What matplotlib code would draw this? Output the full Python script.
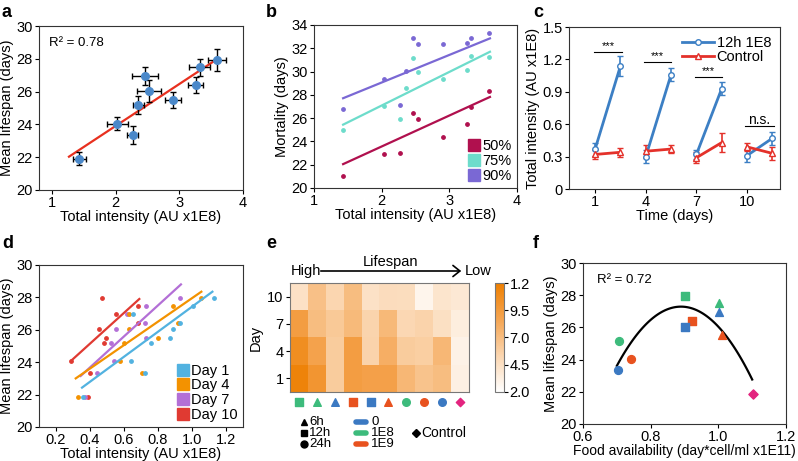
import numpy as np
import matplotlib
matplotlib.use('Agg')
import matplotlib.pyplot as plt
from matplotlib.colors import LinearSegmentedColormap
from matplotlib.lines import Line2D

plt.rcParams['font.family'] = ['Liberation Sans', 'DejaVu Sans']
plt.rcParams['font.size'] = 9
plt.rcParams['axes.edgecolor'] = '#333333'
plt.rcParams['axes.linewidth'] = 0.8
plt.rcParams['xtick.major.size'] = 3
plt.rcParams['ytick.major.size'] = 3
plt.rcParams['xtick.major.width'] = 0.8
plt.rcParams['ytick.major.width'] = 0.8

W, H = 798, 461

# colours
green = '#3dbb7c'
blue = '#3b79c2'
orange = '#e8521f'
magenta = '#e3247f'

# ---- panel a: mean lifespan vs total intensity
a_x = [1.43, 2.03, 2.27, 2.36, 2.46, 2.53, 2.90, 3.26, 3.32, 3.59]
a_y = [21.9, 24.04, 23.37, 25.16, 26.94, 26.04, 25.5, 26.4, 27.47, 27.92]
a_xerr = [0.10, 0.16, 0.09, 0.09, 0.20, 0.19, 0.12, 0.12, 0.17, 0.14]
a_yerr = [0.40, 0.40, 0.55, 0.55, 0.55, 0.65, 0.50, 0.50, 0.50, 0.65]
a_fit_x = [1.27, 3.60]

# ---- panel b: mortality percentiles
b_x50 = [1.43, 2.03, 2.27, 2.46, 2.53, 2.90, 3.26, 3.32, 3.59]
b_y50 = [21.04, 22.94, 22.97, 26.47, 25.95, 24.37, 25.52, 26.96, 28.37]
b_x = [1.43, 2.03, 2.27, 2.36, 2.46, 2.53, 2.90, 3.26, 3.32, 3.59]
b_y75 = [25.0, 27.0, 25.95, 28.57, 31.15, 30.0, 29.37, 30.15, 31.3, 31.24]
b_y90 = [26.82, 29.4, 27.16, 30.03, 32.85, 32.33, 32.39, 32.45, 32.9, 33.34]
b_fit_x = [1.43, 3.60]
b_fit50 = [22.05, 27.82]
b_fit75 = [25.44, 31.70]
b_fit90 = [27.71, 32.85]

# ---- panel c: intensity time course
c_x = [1, 2.5, 4, 5.5, 7, 8.5, 10, 11.5]
c_treat = [0.37, 1.14, 0.30, 1.06, 0.32, 0.93, 0.31, 0.47]
c_treat_err = [0.06, 0.09, 0.06, 0.06, 0.04, 0.06, 0.06, 0.06]
c_ctrl = [0.32, 0.34, 0.35, 0.37, 0.29, 0.43, 0.39, 0.33]
c_ctrl_err = [0.04, 0.04, 0.06, 0.04, 0.05, 0.09, 0.04, 0.06]
c_sig_x0 = [0.95, 3.87, 6.90, 9.85]
c_sig_x1 = [2.62, 5.52, 8.54, 11.57]
c_sig_y = [1.266, 1.173, 1.034, 0.586]
c_sig_txt = ['***', '***', '***', 'n.s.']

# ---- panel d: lifespan vs intensity per day (order: lifespan high -> low)
d_y = [27.94, 27.45, 26.96, 26.4, 26.05, 25.51, 25.18, 24.05, 23.33, 21.87]
d_day1 = [1.129, 1.004, 0.655, 0.929, 0.890, 0.871, 0.761, 0.641, 0.724, 0.357]
d_day4 = [1.055, 0.887, 0.631, 0.920, 0.631, 0.798, 0.602, 0.574, 0.704, 0.328]
d_day7 = [0.929, 0.731, 0.616, 0.725, 0.551, 0.730, 0.524, 0.539, 0.443, 0.372]
d_day10 = [0.471, 0.682, 0.553, 0.680, 0.451, 0.492, 0.480, 0.290, 0.400, 0.386]
d_fit_x = {'Day 1': [0.353, 1.12], 'Day 4': [0.316, 1.055],
           'Day 7': [0.345, 0.935], 'Day 10': [0.29, 0.69]}
d_fit_y = {'Day 1': [22.43, 28.35], 'Day 4': [23.0, 28.35],
           'Day 7': [23.15, 28.8], 'Day 10': [24.1, 27.9]}
d_colors = {'Day 1': '#52b2e0', 'Day 4': '#f39200', 'Day 7': '#b36fd6', 'Day 10': '#e03a32'}

# ---- panel e: heatmap (rows day 10, 7, 4, 1)
e_days = ['10', '7', '4', '1']
e_vals = [
    [4.4, 6.8, 5.3, 7.0, 4.4, 4.8, 4.7, 2.8, 4.1, 3.8],
    [9.3, 7.0, 6.2, 7.2, 5.4, 7.3, 5.2, 5.5, 4.5, 3.4],
    [10.6, 8.9, 6.0, 9.3, 5.5, 8.0, 6.0, 5.8, 7.4, 3.0],
    [11.6, 10.0, 6.0, 9.3, 9.0, 9.0, 7.4, 6.6, 7.0, 3.2],
]
cond_markers = ['s', '^', '^', 's', 's', '^', 'o', 'o', 'o', 'D']
cond_colors = [green, green, blue, orange, blue, orange, green, orange, blue, magenta]

# ---- panel f: lifespan vs food availability (same condition order)
f_x = [0.902, 1.002, 1.001, 0.922, 0.900, 1.011, 0.705, 0.741, 0.702, 1.101]
f_y = [27.93, 27.5, 26.98, 26.38, 26.05, 25.55, 25.18, 24.02, 23.33, 21.86]


def px(x, y):
    return x / W, 1 - y / H


fig = plt.figure(figsize=(W / 100, H / 100), dpi=100)

ax_a = fig.add_axes([0.0489, 0.5879, 0.2556, 0.3557])
ax_b = fig.add_axes([0.3935, 0.5922, 0.2544, 0.3536])
ax_c = fig.add_axes([0.7130, 0.5900, 0.2644, 0.3514])
ax_d = fig.add_axes([0.0489, 0.0738, 0.2556, 0.3514])
ax_e = fig.add_axes([0.3634, 0.1497, 0.2243, 0.2364])
cax = fig.add_axes([0.6203, 0.1497, 0.0113, 0.2364])
ax_f = fig.add_axes([0.7306, 0.0803, 0.2544, 0.3492])

# a
coef = np.polyfit(a_x, a_y, 1)
ax_a.plot(a_fit_x, np.polyval(coef, a_fit_x), color='#e8301f', lw=1.6, zorder=1)
ax_a.errorbar(a_x, a_y, xerr=a_xerr, yerr=a_yerr, fmt='o', color='#4a88c9', ms=5.5,
              ecolor='black', elinewidth=1, capsize=2, capthick=1, zorder=2)
ax_a.set_xlim(0.8, 4)
ax_a.set_ylim(20, 30)
ax_a.set_xticks([1, 2, 3, 4])
ax_a.set_yticks(range(20, 31, 2))
ax_a.set_xlabel('Total intensity (AU x1E8)', labelpad=0)
ax_a.set_ylabel('Mean lifespan (days)', labelpad=2)
ax_a.text(0.05, 0.93, 'R² = 0.78', transform=ax_a.transAxes, va='top', fontsize=9.5)

# b
for xs, ys, fy, col in [(b_x50, b_y50, b_fit50, '#b0104e'),
                        (b_x, b_y75, b_fit75, '#6ddccb'),
                        (b_x, b_y90, b_fit90, '#7a68d4')]:
    ax_b.plot(b_fit_x, fy, color=col, lw=1.6)
    ax_b.scatter(xs, ys, s=6, color=col)
ax_b.set_xlim(1, 4)
ax_b.set_ylim(20, 34)
ax_b.set_xticks([1, 2, 3, 4])
ax_b.set_yticks(range(20, 35, 2))
ax_b.set_xlabel('Total intensity (AU x1E8)', labelpad=0)
ax_b.set_ylabel('Mortality (days)', labelpad=2)
ax_b.legend([Line2D([], [], marker='s', ls='', color=c, ms=9) for c in ['#b0104e', '#6ddccb', '#7a68d4']],
            ['50%', '75%', '90%'], loc='lower right', frameon=False, handletextpad=0.1, labelspacing=0.05,
            borderpad=0.15, handlelength=1, borderaxespad=0.2, fontsize=10.5)

# c
for i in range(0, 8, 2):
    ax_c.errorbar(c_x[i:i + 2], c_treat[i:i + 2], yerr=c_treat_err[i:i + 2], color='#3c7fc4',
                  lw=2, marker='o', ms=4, mfc='white', mew=1, capsize=2, elinewidth=1.2, capthick=1.2)
    ax_c.errorbar(c_x[i:i + 2], c_ctrl[i:i + 2], yerr=c_ctrl_err[i:i + 2], color='#e4312a',
                  lw=2, marker='^', ms=4, mfc='white', mew=1, capsize=2, elinewidth=1.2, capthick=1.2)
for x0, x1, y, t in zip(c_sig_x0, c_sig_x1, c_sig_y, c_sig_txt):
    ax_c.plot([x0, x1], [y, y], color='black', lw=0.8)
    if t == '***':
        ax_c.text((x0 + x1) / 2, y + 0.01, t, ha='center', va='bottom', fontsize=8)
    else:
        ax_c.text((x0 + x1) / 2, y - 0.015, t, ha='center', va='bottom', fontsize=10)
ax_c.set_xlim(-0.55, 11.95)
ax_c.set_ylim(0, 1.5)
ax_c.set_xticks([1, 4, 7, 10])
ax_c.set_yticks([0, 0.3, 0.6, 0.9, 1.2, 1.5])
ax_c.set_yticklabels(['0', '0.3', '0.6', '0.9', '1.2', '1.5'])
ax_c.set_xlabel('Time (days)', labelpad=0)
ax_c.set_ylabel('Total intensity (AU x1E8)', labelpad=2)
leg_h = [Line2D([], [], color='#3c7fc4', lw=2, marker='o', ms=4, mfc='white'),
         Line2D([], [], color='#e4312a', lw=2, marker='^', ms=4, mfc='white')]
ax_c.legend(leg_h, ['12h 1E8', 'Control'], loc='upper right', frameon=False, fontsize=10.5,
            handlelength=2.2, handletextpad=0.2, labelspacing=0.05, borderaxespad=0.2)

# d
for lab, vals in [('Day 10', d_day10), ('Day 7', d_day7), ('Day 4', d_day4), ('Day 1', d_day1)]:
    ax_d.plot(d_fit_x[lab], d_fit_y[lab], color=d_colors[lab], lw=1.6)
    ax_d.scatter(vals, d_y, s=6, color=d_colors[lab])
ax_d.set_xlim(0.1, 1.3)
ax_d.set_ylim(20, 30)
ax_d.set_xticks([0.2, 0.4, 0.6, 0.8, 1.0, 1.2])
ax_d.set_yticks(range(20, 31, 2))
ax_d.set_xlabel('Total intensity (AU x1E8)', labelpad=0)
ax_d.set_ylabel('Mean lifespan (days)', labelpad=2)
ax_d.legend([Line2D([], [], marker='s', ls='', color=d_colors[k], ms=9) for k in d_colors],
            list(d_colors), loc='lower right', frameon=False, handletextpad=0.1, labelspacing=0.05,
            borderpad=0.15, handlelength=1, borderaxespad=0.2, fontsize=10.5)

# e
cmap = LinearSegmentedColormap.from_list('wo', ['#ffffff', '#fbd6b0', '#f5a552', '#ee7f00'])
im = ax_e.imshow(e_vals, cmap=cmap, vmin=2, vmax=12, aspect='auto')
ax_e.set_yticks(range(4))
ax_e.set_yticklabels(e_days)
ax_e.set_xticks([])
ax_e.set_ylabel('Day', labelpad=3)
for spine in ax_e.spines.values():
    spine.set_color('#777777')
for i, (m, c) in enumerate(zip(cond_markers, cond_colors)):
    ax_e.scatter(i, 3.87, marker=m, color=c, s=30 if m != 'D' else 18, clip_on=False)
ax_e.set_xlim(-0.5, 9.5)
ax_e.set_ylim(3.5, -0.5)
cb = fig.colorbar(im, cax=cax, ticks=[2, 4.5, 7, 9.5, 12])
cb.ax.set_yticklabels(['2.0', '4.5', '7.0', '9.5', '1.2'], fontsize=10.5)
cb.ax.tick_params(length=3, pad=1)
cb.outline.set_edgecolor('#777777')

# lifespan arrow
fig.text(*px(291, 271), 'High', va='center', ha='left', fontsize=10.5)
fig.text(*px(465, 271), 'Low', va='center', ha='left', fontsize=10.5)
fig.text(*px(390, 262), 'Lifespan', va='center', ha='center', fontsize=10.5)
fig.add_artist(matplotlib.patches.FancyArrowPatch(px(318, 271), px(464, 271), transform=fig.transFigure,
                                                  arrowstyle='->,head_length=5,head_width=4', lw=1.2,
                                                  color='black', mutation_scale=1))

# legend under heatmap
for y, m, t in [(422, '^', '6h'), (433, 's', '12h'), (444, 'o', '24h')]:
    fig.add_artist(Line2D([px(304, y)[0]], [px(304, y)[1]], marker=m, color='black', ms=5,
                          transform=fig.transFigure))
    fig.text(*px(309, y), t, va='center', fontsize=9.5)
for y, c, t in [(422, blue, '0'), (433, green, '1E8'), (444, orange, '1E9')]:
    x0, yy = px(356, y)
    x1, _ = px(366, y)
    fig.add_artist(Line2D([x0, x1], [yy, yy], color=c, lw=4, solid_capstyle='round',
                          transform=fig.transFigure))
    fig.text(*px(371, y), t, va='center', fontsize=9.5)
fig.add_artist(Line2D([px(416, 433)[0]], [px(416, 433)[1]], marker='D', color='black', ms=4,
                      transform=fig.transFigure))
fig.text(*px(421, 433), 'Control', va='center', fontsize=10)

# f
coef_f = np.polyfit(f_x, f_y, 2)
xx = np.linspace(0.70, 1.10, 100)
ax_f.plot(xx, np.polyval(coef_f, xx), color='black', lw=1.6, zorder=1)
for x, y, m, c in zip(f_x, f_y, cond_markers, cond_colors):
    ax_f.scatter(x, y, marker=m, color=c, s=32 if m != 'D' else 22, zorder=2)
ax_f.set_xlim(0.6, 1.2)
ax_f.set_ylim(20, 30)
ax_f.set_xticks([0.6, 0.8, 1.0, 1.2])
ax_f.set_yticks(range(20, 31, 2))
ax_f.set_ylabel('Mean lifespan (days)', labelpad=2)
ax_f.text(0.07, 0.93, 'R² = 0.72', transform=ax_f.transAxes, va='top', fontsize=9.5)

for ax in [ax_a, ax_b, ax_c, ax_d, ax_f]:
    ax.tick_params(labelsize=10.5, pad=1.5)
    ax.xaxis.label.set_size(10.5)
    ax.yaxis.label.set_size(10.5)
ax_e.tick_params(labelsize=10.5, pad=1.5)
ax_e.yaxis.label.set_size(10.5)
ax_f.set_xlabel('Food availability (day*cell/ml x1E11)', labelpad=0, fontsize=10)

for lab, x, y in [('a', 2, 4), ('b', 266, 4), ('c', 533, 4),
                  ('d', 2, 235), ('e', 266, 235), ('f', 533, 235)]:
    fig.text(*px(x, y), lab, fontsize=13, fontweight='bold', va='top', ha='left')

fig.savefig('out.png', dpi=100)
